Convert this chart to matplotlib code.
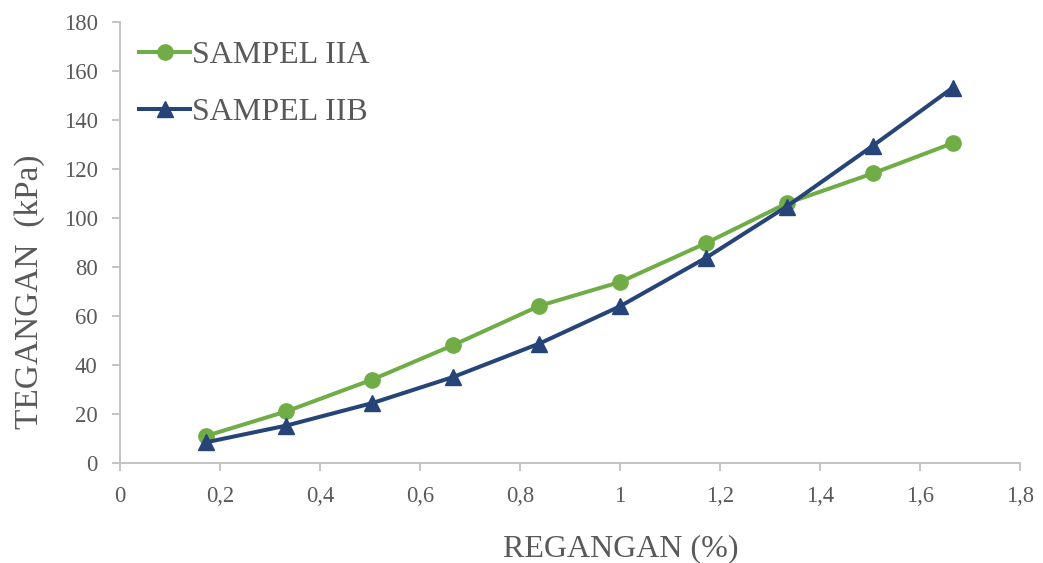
import matplotlib.pyplot as plt
from matplotlib.ticker import FuncFormatter, MultipleLocator

# strain (%) and stress (kPa) for both samples
regangan = [0.173, 0.333, 0.505, 0.666, 0.839, 1.0, 1.172, 1.333, 1.506, 1.665]
sampel_iia = [11.0, 21.0, 34.0, 48.0, 64.1, 73.8, 89.7, 105.9, 118.2, 130.5]
sampel_iib = [8.4, 15.2, 24.4, 35.0, 48.7, 63.9, 83.7, 104.6, 129.5, 153.1]

plt.rcParams["font.family"] = ["Liberation Serif", "DejaVu Serif"]
grey_txt = "#595959"
grey_ax = "#bfbfbf"

fig = plt.figure(figsize=(10.43, 5.63), dpi=100)
ax = fig.add_axes([0.115, 0.178, 0.863, 0.783])

ax.plot(regangan, sampel_iia, color="#70AD47", lw=2.9, marker="o", ms=11,
        label="SAMPEL IIA", zorder=3)
ax.plot(regangan, sampel_iib, color="#264478", lw=2.9, marker="^", ms=11,
        label="SAMPEL IIB", zorder=4)

ax.set_xlim(0, 1.8)
ax.set_ylim(0, 180)
ax.xaxis.set_major_locator(MultipleLocator(0.2))
ax.yaxis.set_major_locator(MultipleLocator(20))
ax.xaxis.set_major_formatter(FuncFormatter(lambda v, p: f"{v:.1f}".rstrip("0").rstrip(".").replace(".", ",")))

for s in ["top", "right"]:
    ax.spines[s].set_visible(False)
for s in ["left", "bottom"]:
    ax.spines[s].set_color(grey_ax)
    ax.spines[s].set_linewidth(1.3)
ax.tick_params(axis="both", colors=grey_ax, labelcolor=grey_txt, labelsize=16.3,
               length=6, width=1.3, direction="out")
ax.tick_params(axis="x", pad=11)
ax.tick_params(axis="y", pad=10)

ax.set_xlabel("REGANGAN (%)", fontsize=23, color=grey_txt)
ax.xaxis.set_label_coords(0.556, -0.163)
ax.set_ylabel("TEGANGAN  (kPa)", fontsize=24, color=grey_txt)
ax.yaxis.set_label_coords(-0.083, 0.388)

leg = ax.legend(loc="upper left", frameon=False, fontsize=23, handlelength=1.6,
                handletextpad=0.06, labelspacing=0.85, borderaxespad=0.2,
                bbox_to_anchor=(0.0, 1.0))
for t in leg.get_texts():
    t.set_color(grey_txt)

fig.savefig("out.png", dpi=100)
